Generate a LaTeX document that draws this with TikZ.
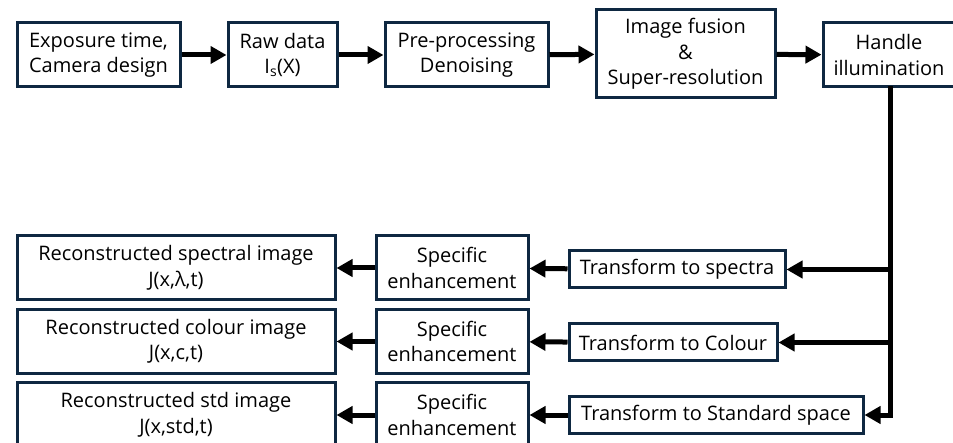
\documentclass[tikz,border=0pt]{standalone}
\usepackage{fontspec}
\setmainfont{Open Sans}
\usetikzlibrary{arrows.meta}
\definecolor{boxline}{HTML}{0E2841}
\begin{document}
\begin{tikzpicture}[x=1pt,y=-1pt,
  box/.style={draw=boxline, line width=3pt, fill=white, rectangle, align=center,
    inner sep=0pt, font=\fontsize{20}{25.5}\selectfont},
  conn/.style={line width=5pt, -{Triangle[length=16pt,width=17pt]}},
  plain/.style={line width=5pt}]
\useasboundingbox (0,0) rectangle (953,443);
% top row
\node[box, minimum width=163pt, minimum height=64pt] (b1) at (98.5,55) {Exposure time,\\Camera design};
\node[box, minimum width=109pt, minimum height=64pt] (b2) at (282.5,55) {Raw data\\I\textsubscript{s}(X)};
\node[box, minimum width=163pt, minimum height=64pt] (b3) at (466.5,55) {Pre-processing\\Denoising};
\node[box, minimum width=179pt, minimum height=88pt] (b4) at (685.5,54) {Image fusion\\\&\\Super-resolution};
\node[box, minimum width=132pt, minimum height=64pt] (b5) at (889,55) {Handle\\illumination};
% bottom rows
\node[box, minimum width=318pt, minimum height=64pt] (r1) at (176,268) {Reconstructed spectral image\\J(x,λ,t)};
\node[box, minimum width=318pt, minimum height=64pt] (r2) at (176,341.5) {Reconstructed colour image\\J(x,c,t)};
\node[box, minimum width=318pt, minimum height=64pt] (r3) at (176,415) {Reconstructed std image\\J(x,std,t)};
\node[box, minimum width=152pt, minimum height=64pt] (e1) at (452,268) {Specific\\enhancement};
\node[box, minimum width=152pt, minimum height=64pt] (e2) at (452,341.5) {Specific\\enhancement};
\node[box, minimum width=152pt, minimum height=64pt] (e3) at (452,415) {Specific\\enhancement};
\node[box, minimum width=216pt, minimum height=37pt] (t1) at (677,269.5) {Transform to spectra};
\node[box, minimum width=208pt, minimum height=37pt] (t2) at (673,342.5) {Transform to Colour};
\node[box, minimum width=294pt, minimum height=37pt] (t3) at (716,415) {Transform to Standard space};
% top connectors
\draw[conn] (b1) -- (b2);
\draw[conn] (b2) -- (b3);
\draw[conn] (b3) -- (b4);
\draw[conn] (b4) -- (b5);
% trunk
\coordinate (j1) at (890,269.5);
\coordinate (j2) at (890,342.5);
\coordinate (j3) at (890,415);
\draw[plain, line cap=rect] (b5.south -| j1) -- (j3);
\draw[conn] (j1) -- (t1);
\draw[conn] (j2) -- (t2);
\draw[conn] ([xshift=-2.5pt]j3) -- (t3);
% bottom connectors
\draw[conn] (t1) -- (e1);
\draw[conn] (t2) -- (e2);
\draw[conn] (t3) -- (e3);
\draw[conn] (e1) -- (r1);
\draw[conn] (e2) -- (r2);
\draw[conn] (e3) -- (r3);
\end{tikzpicture}
\end{document}
